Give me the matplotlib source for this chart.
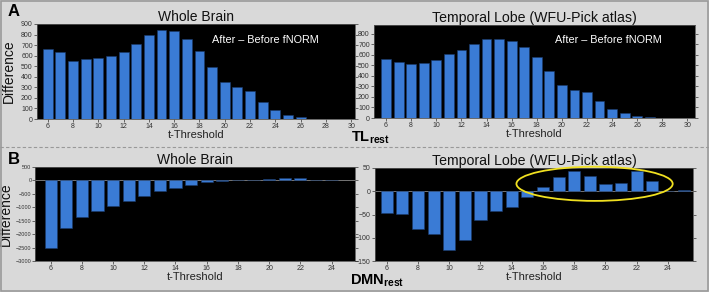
import matplotlib
matplotlib.use("Agg")
import matplotlib.pyplot as plt
from matplotlib.patches import Ellipse
from matplotlib.lines import Line2D

plt.rcParams["font.family"] = ["Liberation Sans", "DejaVu Sans"]
plt.rcParams["mathtext.fontset"] = "custom"
plt.rcParams["mathtext.bf"] = "Liberation Sans:bold"
plt.rcParams["mathtext.rm"] = "Liberation Sans"

# ---- data ----
thr_a = list(range(6, 31))
wb_tl = [665, 630, 550, 570, 575, 600, 635, 710, 800, 840, 830, 755, 645,
         495, 350, 300, 265, 165, 85, 40, 15, 2, 1, 1, 0]
tl_tl = [560, 535, 510, 520, 548, 610, 648, 700, 750, 755, 728, 672, 582,
         450, 312, 268, 250, 163, 85, 45, 22, 8, 3, 1, 0]
thr_b_wb = list(range(6, 25))
wb_dmn = [-2500, -1760, -1380, -1150, -960, -760, -580, -400, -300, -160,
          -60, -20, 0, 30, 40, 100, 100, 30, 0]
thr_b_tl = list(range(6, 26))
tl_dmn = [-47, -48, -82, -91, -126, -104, -62, -42, -34, -13, 10, 31, 44,
          33, 16, 17, 44, 22, 0, 2]

xt_a = list(range(6, 31, 2))
xt_b = list(range(6, 25, 2))
titles = ["Whole Brain", "Temporal Lobe (WFU-Pick atlas)"]
annot = "After \u2013 Before fNORM"

BG = "#d9d9d9"
BAR = "#3a7bd5"

fig = plt.figure(figsize=(7.09, 2.92), dpi=100, facecolor=BG)

def px(x0, y0, x1, y1):
    W, H = 709, 292
    return [x0 / W, 1 - y1 / H, (x1 - x0) / W, (y1 - y0) / H]

def style(ax, xt, yt, xlim, ylim):
    ax.set_facecolor("black")
    ax.set_xlim(*xlim)
    ax.set_ylim(*ylim)
    ax.set_xticks(xt)
    ax.set_yticks(yt)
    ax.tick_params(axis="both", labelsize=5, colors="#333333", length=2,
                   width=0.5, pad=1)
    ax.tick_params(axis="y", right=True)
    for s in ax.spines.values():
        s.set_color("#555555")
        s.set_linewidth(0.6)
    ax.set_xlabel("t-Threshold", fontsize=8, labelpad=0, color="#222222")

# A left
ax1 = fig.add_axes(px(37, 24, 355, 119))
ax1.bar(thr_a, wb_tl, width=0.78, color=BAR, edgecolor="#1a3a6a", linewidth=0.4)
style(ax1, xt_a, range(0, 901, 100), (5.15, 30.3), (0, 900))
ax1.set_title(titles[0], fontsize=10, pad=2, color="#111111")
ax1.set_ylabel("Difference", fontsize=10, color="#111111")
ax1.yaxis.set_label_coords(-0.066, 0.5)
ax1.text(0.55, 0.83, annot, transform=ax1.transAxes, color="white", fontsize=7.8,
         ha="left", va="center")

# A right
ax2 = fig.add_axes(px(374, 25, 695, 118))
ax2.bar(thr_a, tl_tl, width=0.78, color=BAR, edgecolor="#1a3a6a", linewidth=0.4)
style(ax2, xt_a, range(0, 801, 100), (5.04, 30.6), (0, 885))
ax2.set_title(titles[1], fontsize=10.2, pad=2, color="#111111")
ax2.text(0.565, 0.84, annot, transform=ax2.transAxes, color="white", fontsize=7.8,
         ha="left", va="center")

# B left
ax3 = fig.add_axes(px(35, 167, 355, 261))
ax3.axhline(0, color="#888888", lw=0.6, zorder=1)
ax3.bar(thr_b_wb, wb_dmn, width=0.78, color=BAR, edgecolor="#1a3a6a",
        linewidth=0.4, zorder=2)
style(ax3, xt_b, range(-3000, 501, 500), (5.0, 25.5), (-3000, 500))
ax3.tick_params(axis="y", labelsize=4.0, pad=0.5)
ax3.set_title(titles[0], fontsize=10, pad=2, color="#111111")
ax3.set_ylabel("Difference", fontsize=10, color="#111111")
ax3.yaxis.set_label_coords(-0.068, 0.5)

# B right
ax4 = fig.add_axes(px(375, 168, 693, 261))
ax4.axhline(0, color="#888888", lw=0.6, zorder=1)
ax4.bar(thr_b_tl, tl_dmn, width=0.78, color=BAR, edgecolor="#1a3a6a",
        linewidth=0.4, zorder=2)
style(ax4, xt_b, range(-150, 51, 50), (5.25, 25.6), (-150, 50))
ax4.set_title(titles[1], fontsize=10.2, pad=2, color="#111111")
ax4.add_patch(Ellipse((19.3, 16), 10.0, 73.5, fill=False, edgecolor="#f0e020",
                      linewidth=1.3, clip_on=False, zorder=5))

# panel labels and captions
fig.text(8 / 709, 1 - 12 / 292, "A", fontsize=12, fontweight="bold", va="center")
fig.text(8 / 709, 1 - 160 / 292, "B", fontsize=12, fontweight="bold", va="center")
fig.text(370 / 709, 1 - 138 / 292, r"$\mathbf{TL}_{\mathbf{rest}}$", fontsize=10.5,
         ha="center", va="center")
fig.text(377 / 709, 1 - 281 / 292, r"$\mathbf{DMN}_{\mathbf{rest}}$", fontsize=10.5,
         ha="center", va="center")

# dashed separator and border
fig.add_artist(Line2D([0, 1], [1 - 147 / 292, 1 - 147 / 292], color="#999999",
                      lw=0.8, linestyle=(0, (3, 2)), transform=fig.transFigure))
fig.add_artist(plt.Rectangle((0.001, 0.002), 0.997, 0.995, fill=False,
                             edgecolor="#9a9a9a", lw=1.2,
                             transform=fig.transFigure))

fig.savefig("out.png", dpi=100, facecolor=BG)
